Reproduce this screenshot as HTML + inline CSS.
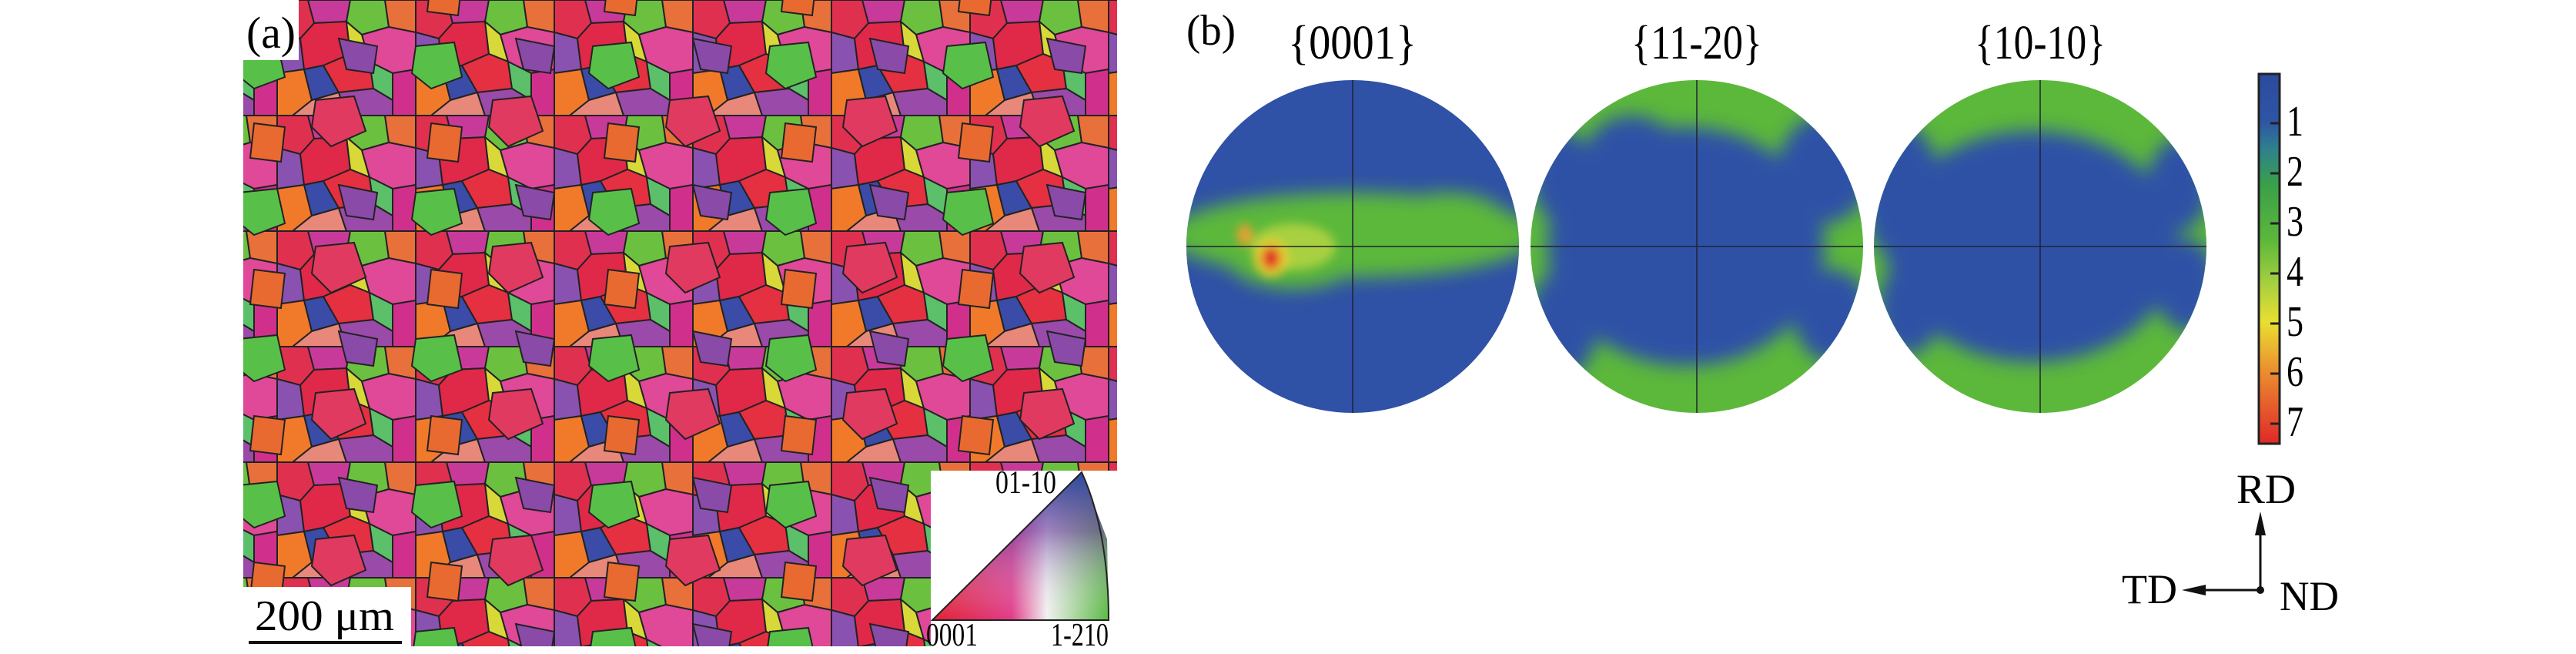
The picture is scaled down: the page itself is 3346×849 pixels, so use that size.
<!DOCTYPE html>
<html><head><meta charset="utf-8"><style>
html,body{margin:0;padding:0;background:#fff;}
body{width:3346px;height:844px;overflow:hidden;position:relative;font-family:"Liberation Serif",serif;}
svg text{font-family:"Liberation Serif",serif;}
</style></head><body>
<svg width="3346" height="844" viewBox="0 0 3346 844" xmlns="http://www.w3.org/2000/svg">
<defs>
<pattern id="grains" width="180" height="150" patternUnits="userSpaceOnUse">
<rect width="180" height="150" fill="#d8264a"/>
<g stroke="#222" stroke-width="2">
<polygon points="0,0 40,0 48,30 30,50 0,42" fill="#e03050"/>
<polygon points="40,0 95,0 90,28 48,30" fill="#c83a9a"/>
<polygon points="95,0 140,0 145,35 110,45 90,28" fill="#6cc040"/>
<polygon points="140,0 180,0 180,42 145,35" fill="#e8703a"/>
<polygon points="0,42 30,50 35,90 0,95" fill="#8a52b0"/>
<polygon points="30,50 48,30 90,28 95,70 60,85 35,90" fill="#e02848"/>
<polygon points="90,28 110,45 120,80 95,70" fill="#d8d838"/>
<polygon points="110,45 145,35 180,42 180,90 150,95 120,80" fill="#e04898"/>
<polygon points="0,95 35,90 45,130 20,150 0,150" fill="#f07a2a"/>
<polygon points="35,90 60,85 80,120 45,130" fill="#3a4ca8"/>
<polygon points="60,85 95,70 120,80 125,115 80,120" fill="#e43040"/>
<polygon points="120,80 150,95 150,130 125,115" fill="#5cbf6a"/>
<polygon points="150,95 180,90 180,150 150,150 150,130" fill="#d0308c"/>
<polygon points="45,130 80,120 90,150 20,150" fill="#e8887a"/>
<polygon points="80,120 125,115 150,130 150,150 90,150" fill="#9a4aa8"/>
</g>
</pattern>
<pattern id="grains2" width="230" height="190" patternUnits="userSpaceOnUse" patternTransform="translate(60,40)">
<g stroke="#222" stroke-width="2">
<polygon points="20,20 70,15 80,60 40,75 15,55" fill="#58c048"/>
<polygon points="120,90 170,85 185,130 140,150 115,125" fill="#e03a60"/>
<polygon points="150,10 200,20 195,55 160,50" fill="#8a4aa8"/>
<polygon points="40,120 80,125 75,170 35,165" fill="#e86a30"/>
</g>
</pattern>
<linearGradient id="cb" x1="0" y1="0" x2="0" y2="1">
<stop offset="0" stop-color="#2c4b9e"/><stop offset="0.13" stop-color="#2f55a5"/>
<stop offset="0.2" stop-color="#2e7f8e"/><stop offset="0.3" stop-color="#3aa048"/>
<stop offset="0.45" stop-color="#5cb83a"/><stop offset="0.57" stop-color="#a8d040"/>
<stop offset="0.67" stop-color="#e8e030"/><stop offset="0.8" stop-color="#eb9030"/>
<stop offset="1" stop-color="#e02828"/></linearGradient>
<linearGradient id="ipfA" x1="0" y1="0" x2="1" y2="0">
<stop offset="0" stop-color="#e02030"/><stop offset="0.45" stop-color="#e03a88"/><stop offset="0.65" stop-color="#f0f0f0"/><stop offset="1" stop-color="#58b840"/></linearGradient>
<linearGradient id="ipfB" x1="0" y1="1" x2="0" y2="0">
<stop offset="0" stop-color="#fff" stop-opacity="0"/><stop offset="0.6" stop-color="#6a3aa0" stop-opacity="0.6"/><stop offset="1" stop-color="#2a4aa0"/></linearGradient>
<filter id="bl" x="-50%" y="-50%" width="200%" height="200%"><feGaussianBlur stdDeviation="12"/></filter>
<filter id="bl2" x="-50%" y="-50%" width="200%" height="200%"><feGaussianBlur stdDeviation="6"/></filter>
<clipPath id="c1"><circle cx="1757" cy="320" r="216"/></clipPath>
<clipPath id="c2"><circle cx="2204" cy="320" r="216"/></clipPath>
<clipPath id="c3"><circle cx="2650" cy="320" r="216"/></clipPath>
</defs>

<!-- panel a -->
<rect x="316" y="0" width="1135" height="839" fill="url(#grains)"/>
<rect x="316" y="0" width="1135" height="839" fill="url(#grains2)"/>
<rect x="316" y="0" width="72" height="78" fill="#fff"/>
<text x="320" y="62" font-size="58" textLength="64" lengthAdjust="spacingAndGlyphs">(a)</text>
<rect x="316" y="762" width="218" height="82" fill="#fff"/>
<text x="331" y="818" font-size="56" textLength="181" lengthAdjust="spacingAndGlyphs">200 μm</text>
<line x1="323" y1="834" x2="522" y2="834" stroke="#111" stroke-width="4"/>
<rect x="1209" y="611" width="242" height="233" fill="#fff"/>
<polygon points="1211,805 1440,805 1438,700 1405,613" fill="url(#ipfA)"/>
<polygon points="1211,805 1440,805 1438,700 1405,613" fill="url(#ipfB)"/>
<path d="M1211,805 L1440,805 Q1440,690 1405,613 Z" fill="none" stroke="#222" stroke-width="2"/>
<text x="1293" y="640" font-size="42" textLength="79" lengthAdjust="spacingAndGlyphs">01-10</text>
<text x="1203" y="838" font-size="42" textLength="67" lengthAdjust="spacingAndGlyphs">0001</text>
<text x="1365" y="838" font-size="42" textLength="75" lengthAdjust="spacingAndGlyphs">1-210</text>

<!-- panel b -->
<text x="1541" y="58" font-size="56" textLength="64" lengthAdjust="spacingAndGlyphs">(b)</text>
<text x="1673" y="76" font-size="62" textLength="167" lengthAdjust="spacingAndGlyphs">{0001}</text>
<text x="2119" y="76" font-size="62" textLength="170" lengthAdjust="spacingAndGlyphs">{11-20}</text>
<text x="2565" y="76" font-size="62" textLength="170" lengthAdjust="spacingAndGlyphs">{10-10}</text>

<g clip-path="url(#c1)">
<rect x="1530" y="100" width="450" height="450" fill="#2f51a6"/>
<g filter="url(#bl)" fill="#5cb83a">
<ellipse cx="1757" cy="305" rx="240" ry="55"/>
<ellipse cx="1680" cy="330" rx="90" ry="45"/>
<ellipse cx="1880" cy="290" rx="80" ry="40"/>
</g>
<g filter="url(#bl2)">
<ellipse cx="1680" cy="320" rx="55" ry="30" fill="#a8d040"/>
<ellipse cx="1651" cy="335" rx="22" ry="24" fill="#e8d030"/>
<ellipse cx="1651" cy="335" rx="12" ry="15" fill="#e03028"/>
<ellipse cx="1617" cy="305" rx="10" ry="14" fill="#e8a030"/>
</g>
<line x1="1540" y1="320" x2="1974" y2="320" stroke="#223" stroke-width="1.5"/>
<line x1="1757" y1="104" x2="1757" y2="536" stroke="#223" stroke-width="1.5"/>
</g>

<g clip-path="url(#c2)">
<rect x="1980" y="100" width="450" height="450" fill="#5cb83a"/>
<g filter="url(#bl)" fill="#2f51a6">
<ellipse cx="2190" cy="320" rx="180" ry="155"/>
<ellipse cx="2120" cy="200" rx="60" ry="50"/>
<ellipse cx="2030" cy="420" rx="45" ry="70"/>
<ellipse cx="2030" cy="230" rx="40" ry="60"/>
<ellipse cx="2370" cy="220" rx="60" ry="70"/>
<ellipse cx="2380" cy="410" rx="50" ry="60"/>
</g>
<line x1="1987" y1="320" x2="2421" y2="320" stroke="#223" stroke-width="1.5"/>
<line x1="2204" y1="104" x2="2204" y2="536" stroke="#223" stroke-width="1.5"/>
</g>

<g clip-path="url(#c3)">
<rect x="2420" y="100" width="460" height="450" fill="#5cb83a"/>
<g filter="url(#bl)" fill="#2f51a6">
<ellipse cx="2640" cy="320" rx="190" ry="150"/>
<ellipse cx="2470" cy="250" rx="50" ry="90"/>
<ellipse cx="2480" cy="400" rx="40" ry="60"/>
<ellipse cx="2830" cy="240" rx="40" ry="60"/>
<ellipse cx="2840" cy="370" rx="40" ry="60"/>
</g>
<line x1="2433" y1="320" x2="2867" y2="320" stroke="#223" stroke-width="1.5"/>
<line x1="2650" y1="104" x2="2650" y2="536" stroke="#223" stroke-width="1.5"/>
</g>

<rect x="2934" y="96" width="27" height="480" fill="url(#cb)" stroke="#222" stroke-width="3"/>
<g font-size="56">
<text x="2970" y="176" textLength="22" lengthAdjust="spacingAndGlyphs">1</text>
<text x="2970" y="241" textLength="22" lengthAdjust="spacingAndGlyphs">2</text>
<text x="2970" y="306" textLength="22" lengthAdjust="spacingAndGlyphs">3</text>
<text x="2970" y="371" textLength="22" lengthAdjust="spacingAndGlyphs">4</text>
<text x="2970" y="436" textLength="22" lengthAdjust="spacingAndGlyphs">5</text>
<text x="2970" y="501" textLength="22" lengthAdjust="spacingAndGlyphs">6</text>
<text x="2970" y="566" textLength="22" lengthAdjust="spacingAndGlyphs">7</text>
</g>
<g stroke="#222" stroke-width="3">
<line x1="2949" y1="160" x2="2961" y2="160"/><line x1="2949" y1="225" x2="2961" y2="225"/>
<line x1="2949" y1="290" x2="2961" y2="290"/><line x1="2949" y1="355" x2="2961" y2="355"/>
<line x1="2949" y1="420" x2="2961" y2="420"/><line x1="2949" y1="485" x2="2961" y2="485"/>
<line x1="2949" y1="550" x2="2961" y2="550"/>
</g>

<line x1="2936" y1="766" x2="2936" y2="690" stroke="#111" stroke-width="3"/>
<polygon points="2936,664 2929,695 2943,695" fill="#111"/>
<line x1="2936" y1="766" x2="2860" y2="766" stroke="#111" stroke-width="3"/>
<polygon points="2834,766 2865,759 2865,773" fill="#111"/>
<circle cx="2936" cy="766" r="5" fill="#111"/>
<text x="2905" y="653" font-size="54" textLength="77" lengthAdjust="spacingAndGlyphs">RD</text>
<text x="2756" y="783" font-size="54" textLength="72" lengthAdjust="spacingAndGlyphs">TD</text>
<text x="2961" y="792" font-size="54" textLength="77" lengthAdjust="spacingAndGlyphs">ND</text>
</svg>
</body></html>
